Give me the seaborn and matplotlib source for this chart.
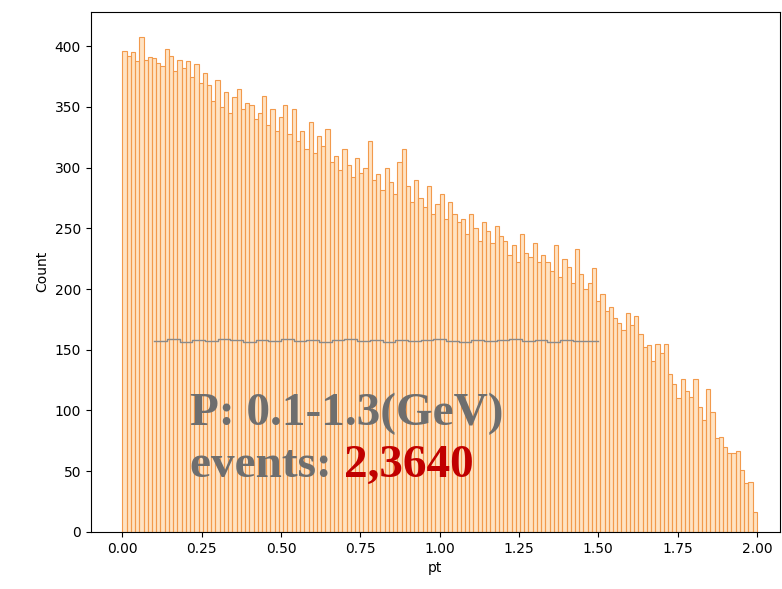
import numpy as np
import pandas as pd
import seaborn as sns
import matplotlib.pyplot as plt

# pt histogram, 150 bins over [0, 2]
pt_lo, pt_hi, n_bins = 0.0, 2.0, 150
counts = [
    396, 392, 395, 388, 408, 389, 391, 390, 386, 384,
    398, 392, 380, 389, 382, 388, 375, 385, 370, 378,
    368, 355, 372, 350, 362, 345, 358, 365, 348, 353,
    352, 340, 345, 359, 335, 348, 330, 342, 352, 328,
    348, 322, 330, 315, 338, 312, 326, 318, 332, 305,
    310, 298, 315, 302, 292, 308, 296, 300, 322, 290,
    295, 282, 300, 288, 278, 305, 315, 285, 272, 290,
    275, 268, 285, 262, 270, 278, 258, 272, 262, 255,
    258, 245, 262, 250, 240, 255, 248, 238, 252, 244,
    240, 228, 236, 222, 245, 230, 226, 238, 222, 228,
    222, 215, 236, 210, 225, 218, 205, 233, 212, 200,
    205, 217, 190, 196, 182, 185, 176, 172, 166, 180,
    170, 178, 163, 152, 154, 141, 155, 147, 155, 130,
    122, 110, 126, 116, 111, 126, 103, 92, 118, 99,
    77, 78, 70, 65, 65, 67, 51, 40, 41, 16,
]

# flat reference histogram, 35 bins over [0.1, 1.5]
flat_lo, flat_hi, flat_bins = 0.1, 1.5, 35
flat_counts = [
    157, 159, 156, 158, 157, 159, 158, 156, 158, 157,
    159, 157, 158, 156, 158, 159, 157, 158, 156, 158,
    157, 158, 159, 157, 156, 158, 157, 158, 159, 157,
    158, 156, 158, 157, 157,
]

label_text = "P: 0.1-1.3(GeV)"
events_label = "events: "
events_value = "2,3640"

edges = np.linspace(pt_lo, pt_hi, n_bins + 1)
df = pd.DataFrame({"pt": (edges[:-1] + edges[1:]) / 2, "w": counts})
flat_edges = np.linspace(flat_lo, flat_hi, flat_bins + 1)
df_flat = pd.DataFrame({"pt": (flat_edges[:-1] + flat_edges[1:]) / 2, "w": flat_counts})

fig = plt.figure(figsize=(7.82, 5.89), dpi=100)
ax = fig.add_axes([0.116, 0.097, 0.881, 0.883])

sns.histplot(data=df, x="pt", weights="w", bins=n_bins, binrange=(pt_lo, pt_hi),
             ax=ax, color="#ffc27a", alpha=0.45, edgecolor="#f29a4c", linewidth=0.8)
sns.histplot(data=df_flat, x="pt", weights="w", bins=flat_bins,
             binrange=(flat_lo, flat_hi), ax=ax,
             element="step", fill=False, color="#8a8a8a", linewidth=1.0)

ax.set_xlim(-0.1, 2.072)
ax.set_xlabel("pt")
ax.set_ylabel("Count")

gray = "#6e6e6e"
font = dict(family="Liberation Serif", weight="bold", size=34)
ax.text(0.144, 0.206, label_text, transform=ax.transAxes, color=gray,
        va="baseline", **font)
t = ax.text(0.144, 0.106, events_label, transform=ax.transAxes, color=gray,
            va="baseline", **font)
ax.annotate(events_value, xy=(1, 0), xycoords=t, color="#c00000",
            va="bottom", **font)

fig.savefig("out.png", dpi=100)
